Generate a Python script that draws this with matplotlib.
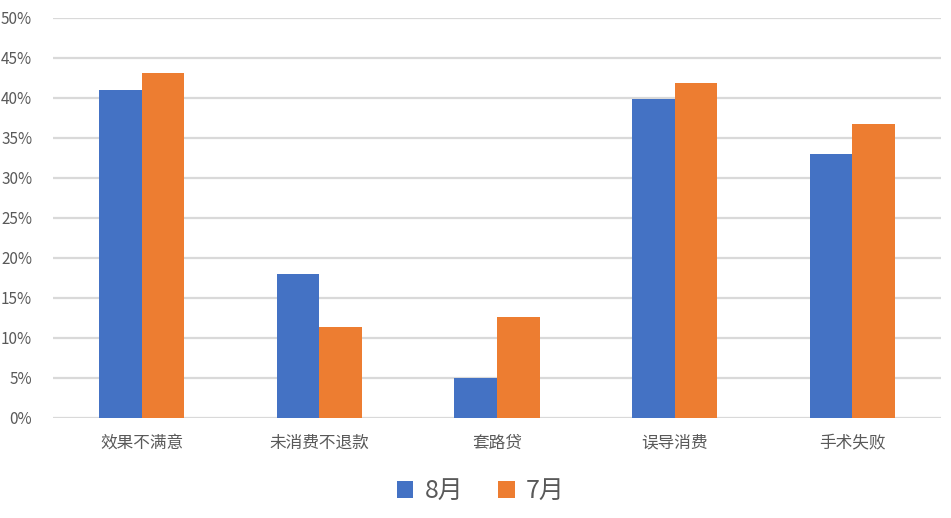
import numpy as np
import matplotlib
matplotlib.use('Agg')
from matplotlib import pyplot as plt
from matplotlib.ticker import FuncFormatter

plt.rcParams['font.family'] = ['Noto Sans CJK SC', 'DejaVu Sans']

categories = ['效果不满意', '未消费不退款', '套路贷', '误导消费', '手术失败']
aug_values = [41.0, 18.0, 5.0, 39.9, 33.0]
jul_values = [43.1, 11.35, 12.6, 41.9, 36.75]
series_names = ['8月', '7月']

blue = '#4472c4'
orange = '#ed7d31'
text_color = '#595959'
grid_color = '#d9d9d9'

W, H = 951, 518
fig = plt.figure(figsize=(W / 100, H / 100), dpi=100)
ax = fig.add_axes([53 / W, 1 - 418 / H, (941 - 53) / W, 400 / H])

x = np.arange(len(categories))
width = 0.24
ax.bar(x - width / 2, aug_values, width, color=blue, label=series_names[0], zorder=3)
ax.bar(x + width / 2, jul_values, width, color=orange, label=series_names[1], zorder=3)

ax.set_xlim(-0.5, len(categories) - 0.5)
ax.set_ylim(0, 50)
ax.set_yticks(np.arange(0, 51, 5))
ax.yaxis.set_major_formatter(FuncFormatter(lambda v, pos: '%d%%' % v))
ax.set_xticks(x)
ax.set_xticklabels(categories)

ax.grid(axis='y', color=grid_color, linewidth=1.6, zorder=0)
for side in ['top', 'right', 'left', 'bottom']:
    ax.spines[side].set_visible(False)
ax.tick_params(axis='both', length=0, colors=text_color)
ax.tick_params(axis='y', labelsize=11, pad=15)
ax.tick_params(axis='x', labelsize=12, pad=12)

fig.legend(loc='center', bbox_to_anchor=(481 / W, 1 - 491 / H), ncol=2,
           frameon=False, fontsize=18, labelcolor=text_color,
           handlelength=0.65, handleheight=0.65, handletextpad=0.45,
           columnspacing=1.4)

fig.savefig('out.png', dpi=100)
